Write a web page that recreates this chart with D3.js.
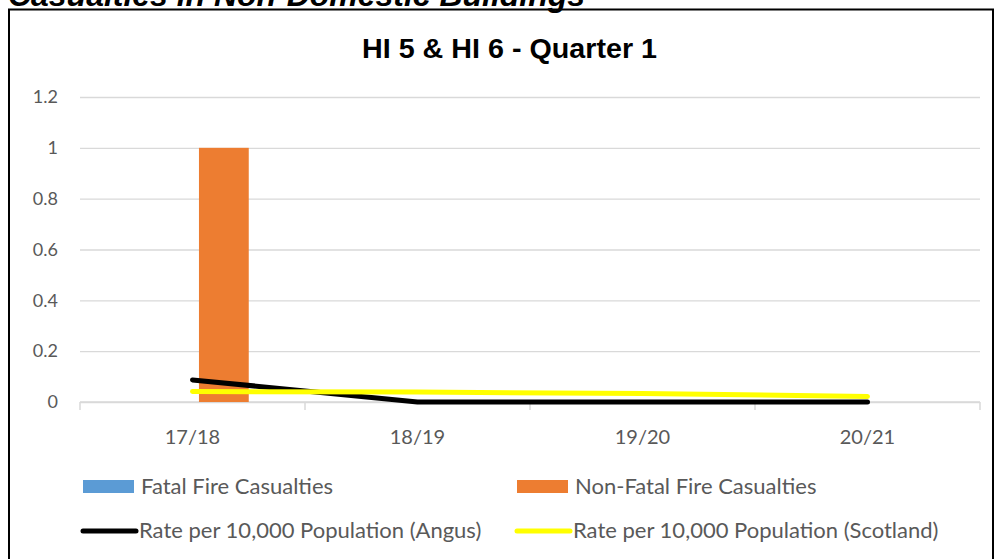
<!DOCTYPE html>
<html>
<head>
<meta charset="utf-8">
<script src="https://cdn.jsdelivr.net/npm/d3@7"></script>
<style>
  body { margin: 0; background: #fff; }
  svg { display: block; }
</style>
</head>
<body>
<div id="chart"></div>
<script>
const years = ["17/18", "18/19", "19/20", "20/21"];
const fatalCasualties = [0, 0, 0, 0];
const nonFatalCasualties = [1, 0, 0, 0];
const rateAngus = [0.087, 0, 0, 0];
const rateScotland = [0.041, 0.039, 0.033, 0.022];
const yTicks = [0, 0.2, 0.4, 0.6, 0.8, 1, 1.2];

const barSeries = ["Fatal Fire Casualties", "Non-Fatal Fire Casualties"];
const barColors = ["#5b9bd5", "#ed7d31"];
const lineSeries = ["Rate per 10,000 Population (Angus)", "Rate per 10,000 Population (Scotland)"];
const lineColors = ["#000000", "#ffff00"];

function drawChart() {
    const W = 996, H = 559;
    let margin = { top: 97, right: 16, bottom: 157, left: 80 };
    let width = W - margin.left - margin.right,
        height = H - margin.top - margin.bottom;

    const svg = d3.select("#chart").append("svg")
        .attr("width", W)
        .attr("height", H);

    // page heading, cut off at top
    svg.append("text")
        .attr("x", 8)
        .attr("y", 6)
        .attr("font-family", "Liberation Sans, Arial, sans-serif")
        .attr("font-weight", "bold")
        .attr("font-style", "italic")
        .attr("font-size", 32)
        .attr("textLength", 577)
        .attr("lengthAdjust", "spacingAndGlyphs")
        .attr("fill", "#000")
        .text("Casualties in Non-Domestic Buildings");

    // chart frame
    svg.append("rect")
        .attr("x", 9)
        .attr("y", 9.5)
        .attr("width", 984)
        .attr("height", 560)
        .attr("fill", "none")
        .attr("stroke", "#000")
        .attr("stroke-width", 2);

    svg.append("text")
        .attr("x", 362)
        .attr("y", 58)
        .attr("font-family", "Liberation Sans, Arial, sans-serif")
        .attr("font-weight", "bold")
        .attr("font-size", 28)
        .attr("textLength", 295)
        .attr("lengthAdjust", "spacingAndGlyphs")
        .attr("fill", "#000")
        .text("HI 5 & HI 6 - Quarter 1");

    const g = svg.append("g")
        .attr("transform", "translate(" + margin.left + "," + margin.top + ")");

    const x0 = d3.scaleBand().domain(years).range([0, width]).paddingInner(0.5).paddingOuter(0.25);
    const x1 = d3.scaleBand().domain(barSeries).range([0, x0.bandwidth()]).paddingInner(0.206);
    const y = d3.scaleLinear().domain([0, 1.2]).range([height, 0]);
    const xc = d => x0(d) + x0.bandwidth() / 2;

    // gridlines + y labels
    const yAxis = d3.axisLeft(y).tickValues(yTicks).tickSize(-width).tickPadding(22)
        .tickFormat(d => d3.format("~g")(d));
    g.append("g").call(yAxis)
        .call(s => s.select(".domain").remove())
        .call(s => s.selectAll("line").attr("stroke", "#d9d9d9").attr("stroke-width", 1.3))
        .call(s => s.selectAll("text")
            .attr("font-family", "Lato, Calibri, sans-serif")
            .attr("font-size", 18)
            .attr("fill", "#595959"));

    // x axis with category boundary ticks
    const xAxis = g.append("g").attr("transform", "translate(0," + height + ")");
    xAxis.append("line").attr("x1", 0).attr("x2", width)
        .attr("stroke", "#d9d9d9").attr("stroke-width", 1.5);
    const step = x0.step();
    xAxis.selectAll(".bt").data(d3.range(years.length + 1)).enter().append("line")
        .attr("x1", i => i * step).attr("x2", i => i * step)
        .attr("y1", 0).attr("y2", 8)
        .attr("stroke", "#d9d9d9").attr("stroke-width", 1.5);
    xAxis.selectAll(".lbl").data(years).enter().append("text")
        .attr("x", xc)
        .attr("y", 42)
        .attr("text-anchor", "middle")
        .attr("font-family", "Lato, Calibri, sans-serif")
        .attr("font-size", 20)
        .attr("fill", "#595959")
        .text(d => d);

    // bars
    const barData = years.map((yr, i) => ({ yr: yr, vals: [fatalCasualties[i], nonFatalCasualties[i]] }));
    const groups = g.selectAll(".grp").data(barData).enter().append("g")
        .attr("transform", d => "translate(" + x0(d.yr) + ",0)");
    groups.selectAll("rect").data(d => d.vals.map((v, k) => ({ k: k, v: v }))).enter().append("rect")
        .attr("x", d => x1(barSeries[d.k]))
        .attr("width", x1.bandwidth())
        .attr("y", d => y(d.v))
        .attr("height", d => height - y(d.v))
        .attr("fill", d => barColors[d.k]);

    // lines
    const line = d3.line().x((d, i) => xc(years[i])).y(d => y(d));
    [rateAngus, rateScotland].forEach((s, k) => {
        g.append("path")
            .datum(s)
            .attr("d", line)
            .attr("fill", "none")
            .attr("stroke", lineColors[k])
            .attr("stroke-width", 5)
            .attr("stroke-linecap", "round")
            .attr("stroke-linejoin", "round");
    });

    // legend
    const legX = [83, 517];
    const legText = { "font-family": "Lato, Calibri, sans-serif", "font-size": 22, "fill": "#595959" };
    barSeries.forEach((name, k) => {
        svg.append("rect")
            .attr("x", legX[k]).attr("y", 480)
            .attr("width", 51).attr("height", 13)
            .attr("fill", barColors[k]);
        const t = svg.append("text")
            .attr("x", legX[k] + 58).attr("y", 494)
            .text(name);
        Object.entries(legText).forEach(([a, v]) => t.attr(a, v));
    });
    lineSeries.forEach((name, k) => {
        svg.append("line")
            .attr("x1", legX[k]).attr("x2", legX[k] + 53)
            .attr("y1", 531).attr("y2", 531)
            .attr("stroke", lineColors[k])
            .attr("stroke-width", 5)
            .attr("stroke-linecap", "round");
        const t = svg.append("text")
            .attr("x", legX[k] + 56).attr("y", 538)
            .text(name);
        Object.entries(legText).forEach(([a, v]) => t.attr(a, v));
    });
}

document.addEventListener("DOMContentLoaded", drawChart);
</script>
</body>
</html>
